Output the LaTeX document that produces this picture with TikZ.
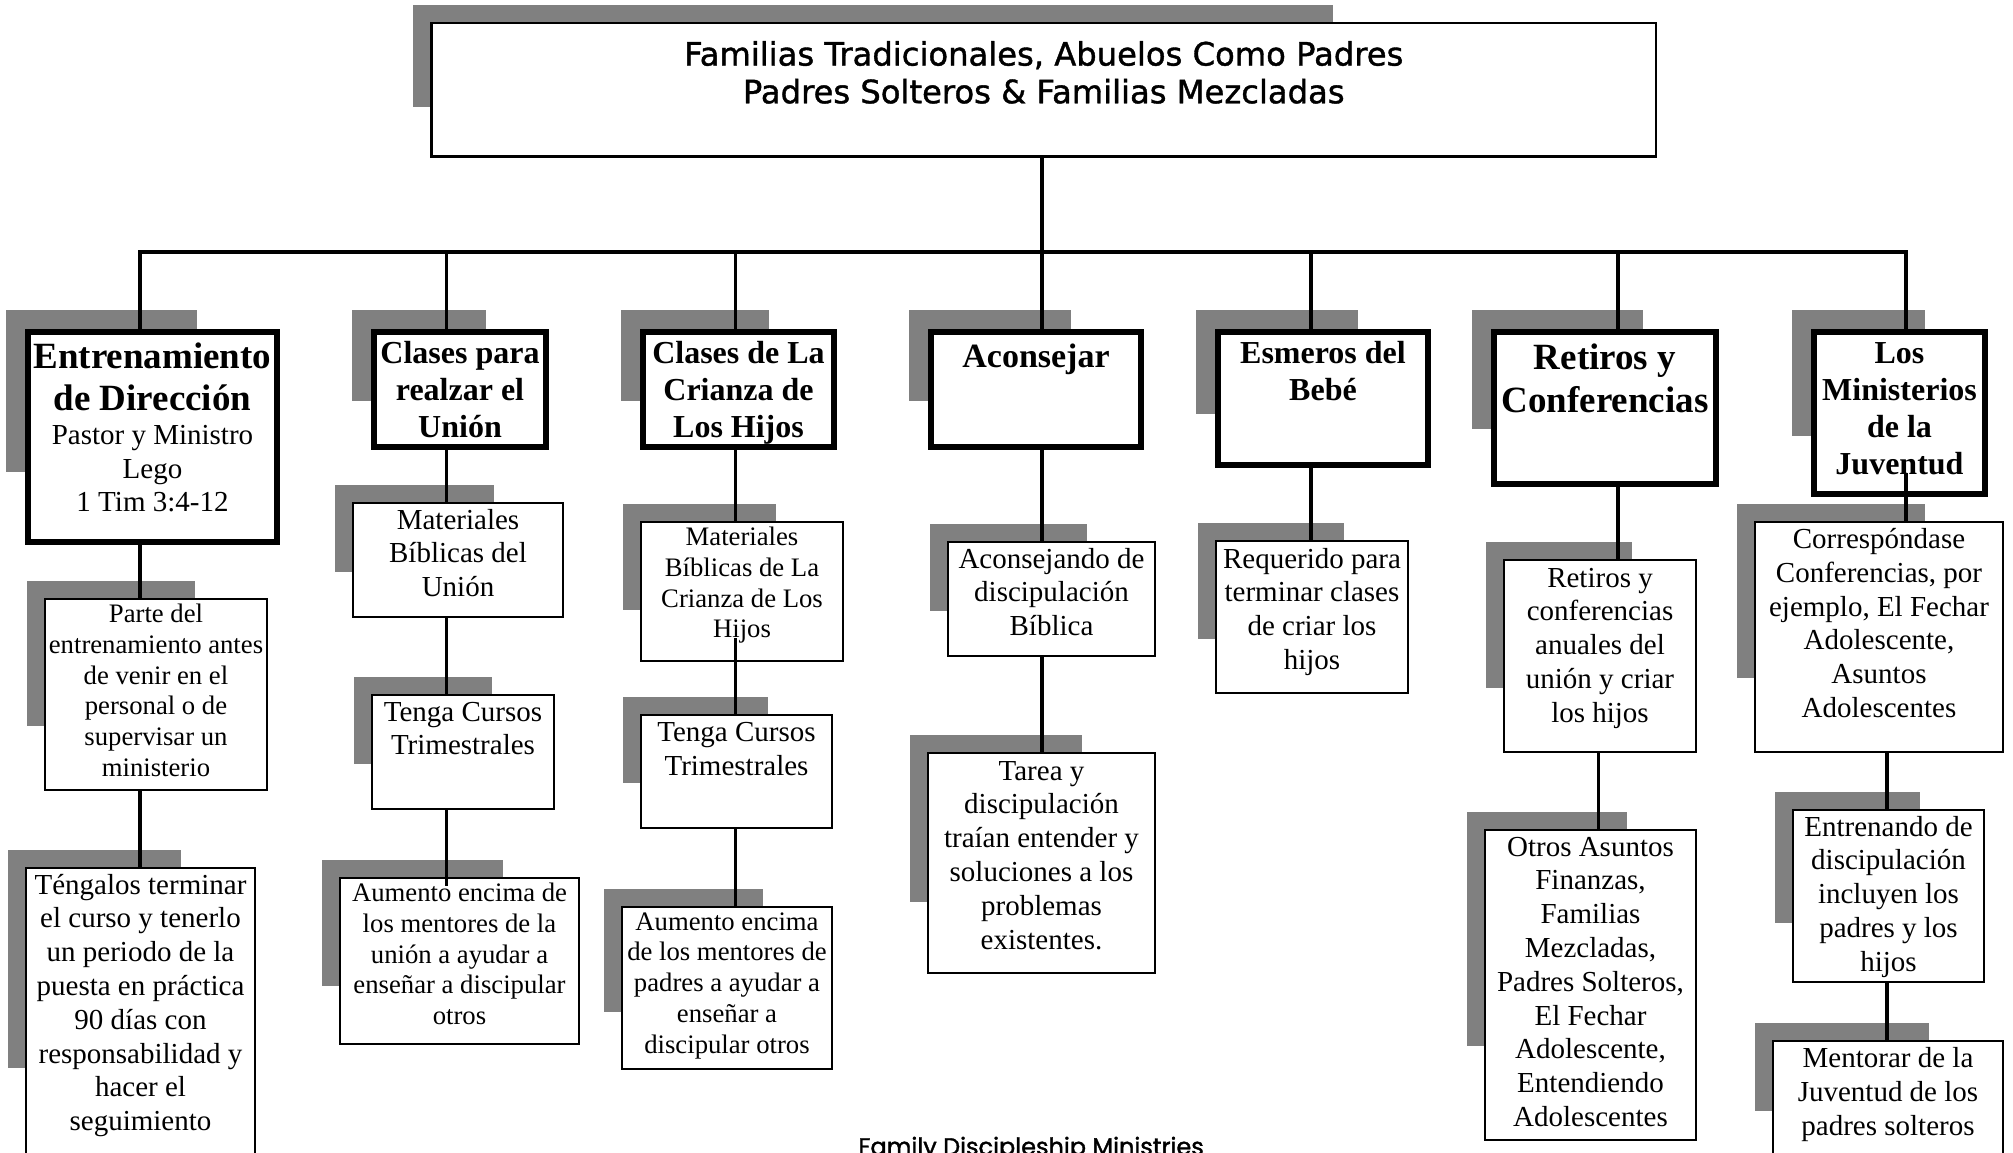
\documentclass[tikz,border=0pt]{standalone}
\usepackage{fontspec}
\setmainfont{Liberation Serif}
\newfontfamily\titlefont[FakeBold=1.2]{DejaVu Sans}
\newfontfamily\footfont[FakeBold=1.5]{Poppins}
\usetikzlibrary{calc}
\definecolor{shadowgray}{RGB}{128,128,128}
\newcommand\FtBig{\fontsize{18.5pt}{21.2pt}\selectfont\bfseries}
\newcommand\FtMid{\fontsize{16pt}{18.6pt}\selectfont\bfseries}
\newcommand\FtAc{\fontsize{17pt}{19.5pt}\selectfont\bfseries}
\newcommand\FtN{\fontsize{14.5pt}{16.9pt}\selectfont}
\newcommand\FtS{\fontsize{13.35pt}{15.4pt}\selectfont}
\newcommand\FtTitle{\titlefont\fontsize{16.1pt}{18.85pt}\selectfont}
% name, x1, y1, x2, y2, line width (px), font, first baseline offset (px), text
\newcommand\ob[9]{%
  \pgfmathsetmacro\obw{#4-#2}%
  \pgfmathsetmacro\obh{#5-#3}%
  \pgfmathsetlengthmacro\obiw{0.5pt*(\obw-#6)}%
  \pgfmathsetlengthmacro\obih{0.5pt*(\obh-#6)}%
  \pgfmathsetlengthmacro\obst{0.5pt*(#8-#6/2)}%
  \fill[shadowgray] (#2-16,#3-16) rectangle ++(0.75*\obw,0.75*\obh);
  \node[obox, line width=#6*0.5pt, anchor=north west] (#1) at (#2+#6/2,#3+#6/2)
    {\parbox[t][\obih][t]{\obiw}{\centering #7\rule{0pt}{\obst}#9\par}};
}
\tikzset{
  obox/.style={draw=black, fill=white, inner sep=0pt},
  conn/.style={draw=black, line width=1.7pt, line join=miter}
}
\begin{document}
\begin{tikzpicture}[x=0.5pt, y=-0.5pt]
\useasboundingbox (0,0) rectangle (2013,1152);
\fill[white] (0,0) rectangle (2013,1152);
\clip (0,0) rectangle (2013,1152);

% top box
\ob{top}{429}{20.7}{1656}{156.7}{2.5}{\FtTitle}{43.6}{Familias Tradicionales, Abuelos Como Padres\\Padres Solteros \& Familias Mezcladas}

% level 1
\ob{E1}{22}{326}{277}{542}{6}{\FtBig}{39}{Entrenamiento\\de Dirección\par\mdseries\FtN Pastor y Ministro\\Lego\\1 Tim 3:4-12}
\ob{E2}{368}{326}{546}{447}{6}{\FtMid}{34}{Clases para\\realzar el\\Unión}
\ob{E3}{637}{326}{834}{447}{6}{\FtMid}{34}{Clases de La\\Crianza de\\Los Hijos}
\ob{E4}{925}{326}{1141}{447}{6}{\FtAc}{38.5}{Aconsejar}
\ob{E5}{1212}{326}{1428}{465}{6}{\FtMid}{34}{Esmeros del\\Bebé}
\ob{E6}{1488}{326}{1716}{484}{6}{\FtBig}{40.7}{Retiros y\\Conferencias}
\ob{E7}{1808}{326}{1985}{494}{6}{\FtMid}{34}{Los\\Ministerios\\de la\\Juventud}

% level 2 / 3
\ob{P1}{43}{597}{267}{790}{2}{\FtS}{24.5}{Parte del\\entrenamiento antes\\de venir en el\\personal o de\\supervisar un\\ministerio}
\ob{T1}{24}{866}{255}{1156}{2}{\FtN}{27}{Téngalos terminar\\el curso y tenerlo\\un periodo de la\\puesta en práctica\\90 días con\\responsabilidad y\\hacer el\\seguimiento}
\ob{M2}{351}{501}{563}{617}{2}{\FtN}{27}{Materiales\\Bíblicas del\\Unión}
\ob{C2}{370}{693}{554}{809}{2}{\FtN}{27}{Tenga Cursos\\Trimestrales}
\ob{A2}{338}{876}{579}{1044}{2}{\FtS}{24.5}{Aumento encima de\\los mentores de la\\unión a ayudar a\\enseñar a discipular\\otros}
\ob{M3}{639}{520}{843}{661}{2}{\FtS}{24.5}{Materiales\\Bíblicas de La\\Crianza de Los\\Hijos}
\ob{C3}{639}{713}{832}{828}{2}{\FtN}{27.5}{Tenga Cursos\\Trimestrales}
\ob{A3}{620}{905}{832}{1069}{2}{\FtS}{24}{Aumento encima\\de los mentores de\\padres a ayudar a\\enseñar a\\discipular otros}
\ob{K1}{946}{540}{1155}{656}{2}{\FtN}{27}{Aconsejando de\\discipulación\\Bíblica}
\ob{K2}{926}{751}{1155}{973}{2}{\FtN}{28}{Tarea y\\discipulación\\traían entender y\\soluciones a los\\problemas\\existentes.}
\ob{R1}{1214}{539}{1408}{693}{2}{\FtN}{28}{Requerido para\\terminar clases\\de criar los\\hijos}
\ob{S1}{1502}{558}{1696}{752}{2}{\FtN}{28}{Retiros y\\conferencias\\anuales del\\unión y criar\\los hijos}
\ob{S2}{1483}{828}{1696}{1140}{2}{\FtN}{27}{Otros Asuntos\\Finanzas,\\Familias\\Mezcladas,\\Padres Solteros,\\El Fechar\\Adolescente,\\Entendiendo\\Adolescentes}
\ob{J1}{1753}{520}{2003}{752}{2}{\FtN}{27.5}{Correspóndase\\Conferencias, por\\ejemplo, El Fechar\\Adolescente,\\Asuntos\\Adolescentes}
\ob{J2}{1791}{808}{1984}{982}{2}{\FtN}{27}{Entrenando de\\discipulación\\incluyen los\\padres y los\\hijos}
\ob{J3}{1771}{1039}{2003}{1156}{2}{\FtN}{27.6}{Mentorar de la\\Juventud de los\\padres solteros}

% footer
\node[anchor=base west, inner sep=0pt, font={\footfont\fontsize{12pt}{14pt}\selectfont}] (foot) at (858,1155) {Family Discipleship Ministries};

% connector columns
\coordinate (cx1) at (140,0);
\coordinate (cx2) at (446.6,0);
\coordinate (cx3) at (735.6,0);
\coordinate (cx4) at (1042,0);
\coordinate (cx5) at (1311,0);
\coordinate (cx6) at (1618,0);
\coordinate (cx6b) at (1598.6,0);
\coordinate (cx7) at (1906,0);
\coordinate (cx7b) at (1887,0);
\coordinate (busL) at (140,252);
\coordinate (busR) at (1906,252);

% bus and drops
\draw[conn] (E1.north -| cx1) -- (busL) -- (busR) -- (E7.north -| cx7);
\draw[conn] (busL -| cx2) -- (E2.north -| cx2);
\draw[conn] (busL -| cx3) -- (E3.north -| cx3);
\draw[conn] (top.south -| cx4) -- (E4.north -| cx4);
\draw[conn] (busL -| cx5) -- (E5.north -| cx5);
\draw[conn] (busL -| cx6) -- (E6.north -| cx6);

% column 1
\draw[conn] (E1.south -| cx1) -- (P1.north -| cx1);
\draw[conn] (P1.south -| cx1) -- (T1.north -| cx1);
% column 2
\draw[conn] (E2.south -| cx2) -- (M2.north -| cx2);
\draw[conn] (M2.south -| cx2) -- (C2.north -| cx2);
\draw[conn] (C2.south -| cx2) -- ($(A2.north -| cx2)+(0,9)$);
% column 3
\draw[conn] (E3.south -| cx3) -- (M3.north -| cx3);
\draw[conn] ($(M3.south -| cx3)+(0,-24)$) -- (C3.north -| cx3);
\draw[conn] (C3.south -| cx3) -- (A3.north -| cx3);
% column 4
\draw[conn] (E4.south -| cx4) -- (K1.north -| cx4);
\draw[conn] (K1.south -| cx4) -- (K2.north -| cx4);
% column 5
\draw[conn] (E5.south -| cx5) -- (R1.north -| cx5);
% column 6
\draw[conn] (E6.south -| cx6) -- (S1.north -| cx6);
\draw[conn] (S1.south -| cx6b) -- (S2.north -| cx6b);
% column 7
\draw[conn] ($(E7.south -| cx7)+(0,-24)$) -- (J1.north -| cx7);
\draw[conn] (J1.south -| cx7b) -- (J2.north -| cx7b);
\draw[conn] (J2.south -| cx7b) -- (J3.north -| cx7b);
\end{tikzpicture}
\end{document}
